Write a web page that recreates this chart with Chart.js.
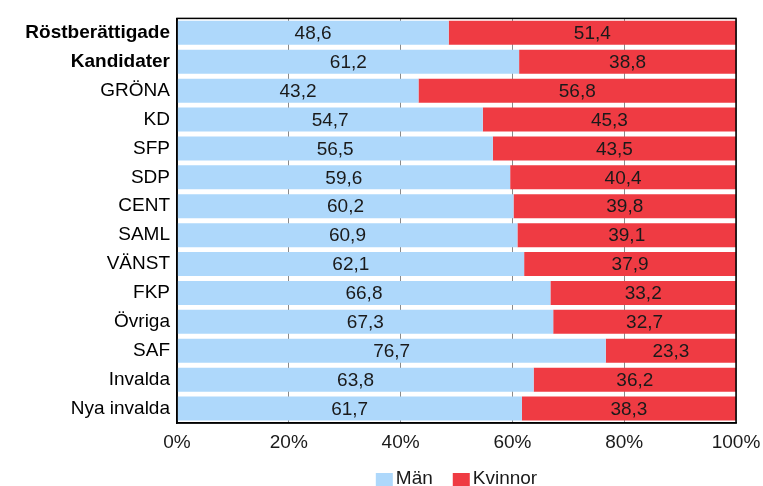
<!DOCTYPE html>
<html>
<head>
<meta charset="utf-8">
<script src="https://cdn.jsdelivr.net/npm/chart.js@4"></script>
<style>
html,body{margin:0;padding:0;background:#fff;}
#wrap{width:763px;height:486px;position:relative;}
</style>
</head>
<body>
<div id="wrap"><canvas id="c" width="763" height="486"></canvas></div>
<script>
const categories = ["Röstberättigade","Kandidater","GRÖNA","KD","SFP","SDP","CENT","SAML","VÄNST","FKP","Övriga","SAF","Invalda","Nya invalda"];
const boldCategories = ["Röstberättigade","Kandidater"];
const seriesNames = ["Män","Kvinnor"];
const manValues = [48.6,61.2,43.2,54.7,56.5,59.6,60.2,60.9,62.1,66.8,67.3,76.7,63.8,61.7];
const kvinnorValues = [51.4,38.8,56.8,45.3,43.5,40.4,39.8,39.1,37.9,33.2,32.7,23.3,36.2,38.3];
const xTicks = [0,20,40,60,80,100];

const FONT = "'Liberation Sans', Arial, sans-serif";
const fmt = v => v.toFixed(1).replace('.', ',');

const valueLabels = {
  id: 'valueLabels',
  afterDatasetsDraw(chart) {
    const ctx = chart.ctx;
    ctx.save();
    ctx.font = "19px " + FONT;
    ctx.fillStyle = '#1a1a1a';
    ctx.textAlign = 'center';
    ctx.textBaseline = 'middle';
    chart.data.datasets.forEach((ds, di) => {
      const meta = chart.getDatasetMeta(di);
      meta.data.forEach((bar, i) => {
        const x = (bar.x + bar.base) / 2;
        ctx.fillText(fmt(ds.data[i]), x, bar.y + 1);
      });
    });
    ctx.restore();
  }
};

const frame = {
  id: 'frame',
  afterDraw(chart) {
    const a = chart.chartArea, ctx = chart.ctx;
    ctx.save();
    ctx.strokeStyle = '#000';
    ctx.lineWidth = 1.5;
    ctx.strokeRect(a.left, a.top, a.right - a.left, a.bottom - a.top);
    // legend
    ctx.font = "19px " + FONT;
    ctx.textBaseline = 'middle';
    ctx.textAlign = 'left';
    const box = 17, gap = 3, itemGap = 20;
    const items = chart.data.datasets.map(d => ({label: d.label, color: d.backgroundColor, w: box + gap + ctx.measureText(d.label).width}));
    const total = items.reduce((s, it) => s + it.w, 0) + itemGap * (items.length - 1);
    let x = (a.left + a.right) / 2 - total / 2;
    const y = 479;
    items.forEach(it => {
      ctx.fillStyle = it.color;
      ctx.fillRect(x, y - 6, box, 13);
      ctx.fillStyle = '#1a1a1a';
      ctx.fillText(it.label, x + box + gap, y);
      x += it.w + itemGap;
    });
    ctx.restore();
  }
};

new Chart(document.getElementById('c'), {
  type: 'bar',
  data: {
    labels: categories,
    datasets: [
      {label: seriesNames[0], data: manValues, backgroundColor: '#AED8FB', borderWidth: 0},
      {label: seriesNames[1], data: kvinnorValues, backgroundColor: '#EF3B43', borderWidth: 0}
    ]
  },
  options: {
    indexAxis: 'y',
    responsive: false,
    animation: false,
    devicePixelRatio: 1,
    layout: {padding: {top: 17, right: 27, left: 0, bottom: 0}},
    plugins: {legend: {display: false}, tooltip: {enabled: false}},
    datasets: {bar: {barPercentage: 0.83, categoryPercentage: 1}},
    scales: {
      x: {
        stacked: true, min: 0, max: 100,
        afterBuildTicks: s => { s.ticks = xTicks.map(v => ({value: v})); },
        afterFit: s => { s.height = 63; s.paddingLeft = 0; s.paddingRight = 0; },
        grid: {color: '#8a8a8a', lineWidth: 1, drawTicks: false},
        border: {color: '#000', width: 1.5},
        ticks: {padding: 8, color: '#1a1a1a', font: {family: FONT, size: 19}, callback: v => v + '%'}
      },
      y: {
        stacked: true,
        afterFit: s => { s.width = 177; },
        grid: {display: false, drawTicks: false},
        border: {color: '#000', width: 1.5},
        ticks: {
          padding: 7, color: '#000',
          font: c => ({family: FONT, size: 19, weight: boldCategories.includes(categories[c.index]) ? 'bold' : 'normal'})
        }
      }
    }
  },
  plugins: [valueLabels, frame]
});
</script>
</body>
</html>
